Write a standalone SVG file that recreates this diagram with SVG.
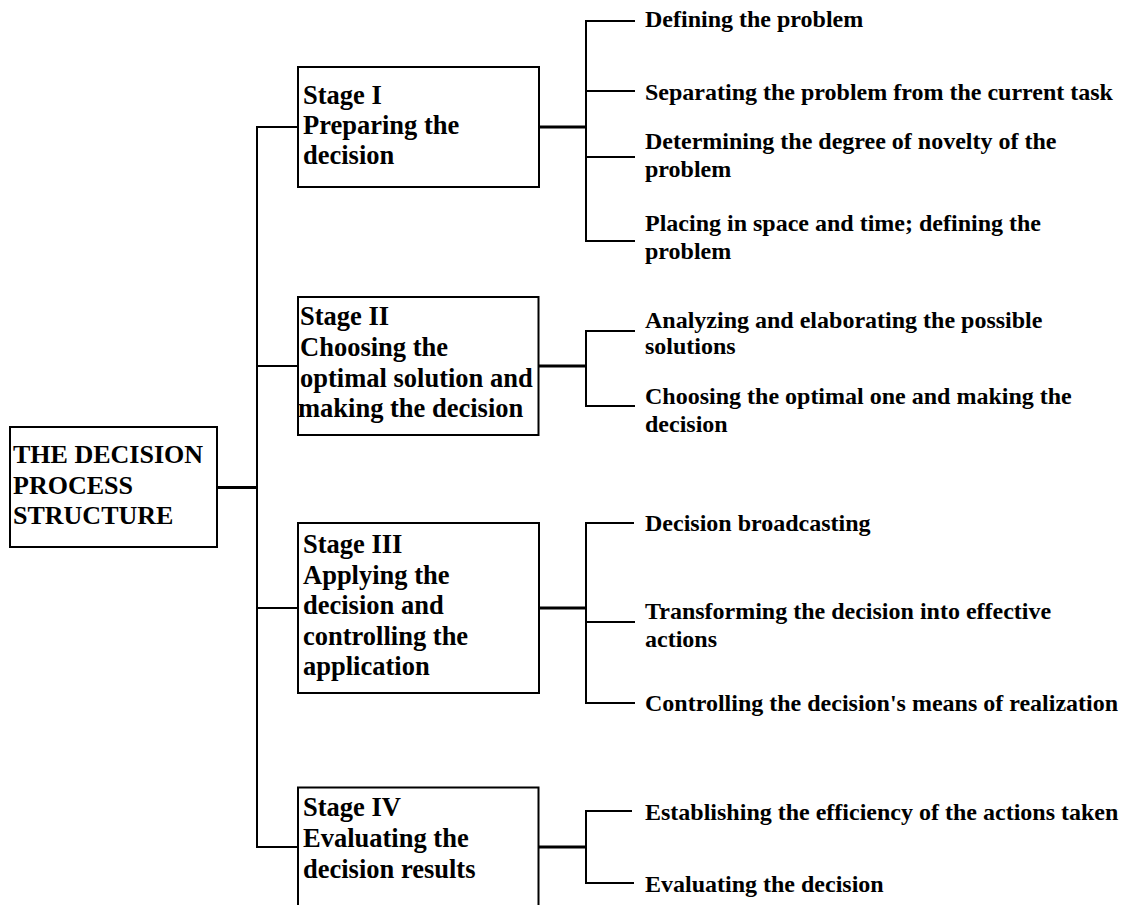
<svg xmlns="http://www.w3.org/2000/svg" width="1126" height="905" viewBox="0 0 1126 905">
  <style>
    .box { fill: #ffffff; stroke: #000000; stroke-width: 2; }
    .ln { fill: none; stroke: #000000; stroke-width: 2; stroke-linecap: square; }
    .thick { fill: none; stroke: #000000; stroke-width: 3; }
    text { font-family: "Liberation Serif", "Times New Roman", serif; font-weight: bold; fill: #000000; }
    .root { font-size: 26px; }
    .stage { font-size: 26.5px; }
    .item { font-size: 24px; }
  </style>
  <rect width="1126" height="905" fill="#ffffff"/>

  <!-- connectors -->
  <g id="connectors">
    <!-- root to spine -->
    <line class="thick" x1="217" y1="487.5" x2="258" y2="487.5"/>
    <!-- spine -->
    <line class="ln" x1="257" y1="127" x2="257" y2="847"/>
    <line class="ln" x1="257" y1="127" x2="298" y2="127"/>
    <line class="ln" x1="257" y1="366" x2="298" y2="366"/>
    <line class="ln" x1="257" y1="608" x2="298" y2="608"/>
    <line class="ln" x1="257" y1="847" x2="298" y2="847"/>

    <!-- Stage I branches -->
    <line class="thick" x1="539" y1="127" x2="586" y2="127"/>
    <line class="ln" x1="586" y1="21" x2="586" y2="241"/>
    <line class="ln" x1="586" y1="21" x2="634" y2="21"/>
    <line class="ln" x1="586" y1="91" x2="634" y2="91"/>
    <line class="ln" x1="586" y1="157" x2="634" y2="157"/>
    <line class="ln" x1="586" y1="241" x2="634" y2="241"/>

    <!-- Stage II branches -->
    <line class="thick" x1="539" y1="366" x2="586" y2="366"/>
    <line class="ln" x1="586" y1="331" x2="586" y2="406"/>
    <line class="ln" x1="586" y1="331" x2="634" y2="331"/>
    <line class="ln" x1="586" y1="406" x2="634" y2="406"/>

    <!-- Stage III branches -->
    <line class="thick" x1="539" y1="608" x2="586" y2="608"/>
    <line class="ln" x1="586" y1="523" x2="586" y2="703"/>
    <line class="ln" x1="586" y1="523" x2="633" y2="523"/>
    <line class="ln" x1="586" y1="622" x2="634" y2="622"/>
    <line class="ln" x1="586" y1="703" x2="634" y2="703"/>

    <!-- Stage IV branches -->
    <line class="thick" x1="539" y1="847" x2="586" y2="847"/>
    <line class="ln" x1="586" y1="811" x2="586" y2="883"/>
    <line class="ln" x1="586" y1="811" x2="631" y2="811"/>
    <line class="ln" x1="586" y1="883" x2="633" y2="883"/>
  </g>

  <!-- root node -->
  <g id="root">
    <rect class="box" x="10" y="427" width="207" height="120"/>
    <text class="root" x="13" y="462.5">THE DECISION</text>
    <text class="root" x="13" y="493.5">PROCESS</text>
    <text class="root" x="13" y="524">STRUCTURE</text>
  </g>

  <!-- stage nodes -->
  <g id="stage1">
    <rect class="box" x="298" y="67" width="241" height="120"/>
    <text class="stage" x="303" y="104">Stage I</text>
    <text class="stage" x="303" y="134">Preparing the</text>
    <text class="stage" x="303" y="164">decision</text>
  </g>
  <g id="stage2">
    <rect class="box" x="298" y="297" width="240.5" height="138"/>
    <text class="stage" x="300" y="325">Stage II</text>
    <text class="stage" x="300" y="356">Choosing the</text>
    <text class="stage" x="300" y="386.5">optimal solution and</text>
    <text class="stage" x="298" y="417">making the decision</text>
  </g>
  <g id="stage3">
    <rect class="box" x="298" y="523" width="241" height="170"/>
    <text class="stage" x="303" y="553">Stage III</text>
    <text class="stage" x="303" y="583.5">Applying the</text>
    <text class="stage" x="303" y="614">decision and</text>
    <text class="stage" x="303" y="644.5">controlling the</text>
    <text class="stage" x="303" y="675">application</text>
  </g>
  <g id="stage4">
    <rect class="box" x="298" y="787.5" width="240.5" height="125"/>
    <text class="stage" x="303" y="816">Stage IV</text>
    <text class="stage" x="303" y="846.5">Evaluating the</text>
    <text class="stage" x="303" y="877.5">decision results</text>
  </g>

  <!-- activity labels -->
  <g id="item-1-1"><text class="item" x="645" y="27">Defining the problem</text></g>
  <g id="item-1-2"><text class="item" x="645" y="99.5">Separating the problem from the current task</text></g>
  <g id="item-1-3">
    <text class="item" x="645" y="149">Determining the degree of novelty of the</text>
    <text class="item" x="645" y="177">problem</text>
  </g>
  <g id="item-1-4">
    <text class="item" x="645" y="231">Placing in space and time; defining the</text>
    <text class="item" x="645" y="258.5">problem</text>
  </g>
  <g id="item-2-1">
    <text class="item" x="645" y="328">Analyzing and elaborating the possible</text>
    <text class="item" x="645" y="354">solutions</text>
  </g>
  <g id="item-2-2">
    <text class="item" x="645" y="404">Choosing the optimal one and making the</text>
    <text class="item" x="645" y="431.5">decision</text>
  </g>
  <g id="item-3-1"><text class="item" x="645" y="530.5">Decision broadcasting</text></g>
  <g id="item-3-2">
    <text class="item" x="645" y="618.5">Transforming the decision into effective</text>
    <text class="item" x="645" y="646.5">actions</text>
  </g>
  <g id="item-3-3"><text class="item" x="645" y="710.5">Controlling the decision's means of realization</text></g>
  <g id="item-4-1"><text class="item" x="645" y="820">Establishing the efficiency of the actions taken</text></g>
  <g id="item-4-2"><text class="item" x="645" y="891.5">Evaluating the decision</text></g>
</svg>
